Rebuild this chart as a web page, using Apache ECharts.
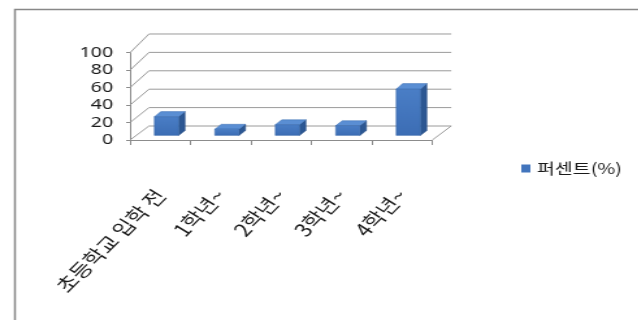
<!DOCTYPE html>
<html>
<head>
<meta charset="utf-8">
<script src="https://cdn.jsdelivr.net/npm/echarts@6/dist/echarts.min.js"></script>
<style>
  html, body { margin: 0; padding: 0; background: #fff; overflow: hidden; }
  #wrap { width: 638px; height: 320px; overflow: hidden; position: relative; }
  /* the chart is laid out narrow and widened, like a stretched spreadsheet snapshot */
  #chart { width: 491px; height: 320px; transform: scaleX(1.3); transform-origin: 0 0; }
</style>
</head>
<body>
<div id="wrap"><div id="chart"></div></div>
<script>
// categories and values
const categories = ['초등학교 입학 전', '1학년~', '2학년~', '3학년~', '4학년~'];
const percent = [21, 7, 12, 11, 52];
const seriesName = '퍼센트(%)';
const yTicks = [0, 20, 40, 60, 80, 100];

// oblique depth of the pseudo-3D box (pixels in chart space)
const DX = 14.6, DY = -14, K = 0.054;
const D0 = 0.33, D1 = 0.67;       // bar depth span
const GRID_COLOR = '#9a9a9a';
const FRONT = '#4275bd', TOP = '#5a8ed3', SIDE = '#2c5792';

function projector(api) {
  const base = api.coord([0, 0])[1];
  return function (x, v, d) {
    const h = base - api.coord([0, v])[1];
    return [x + d * DX, base + d * DY - h * (1 + d * K)];
  };
}

const chart = echarts.init(document.getElementById('chart'), null, { renderer: 'canvas' });

chart.setOption({
  animation: false,
  backgroundColor: '#fff',
  graphic: [{
    type: 'rect', left: 9, top: 7, z: -10,
    shape: { width: 700, height: 400 },
    style: { fill: 'none', stroke: '#888', lineWidth: 1.5 }
  }],
  legend: {
    data: [seriesName],
    left: 396, top: 156,
    icon: 'rect', itemWidth: 7, itemHeight: 8, itemGap: 4,
    textStyle: { fontFamily: 'Noto Sans CJK KR', fontSize: 15, color: '#1a1a1a', padding: [12, 0, 0, 0] }
  },
  grid: { left: 100, right: 158.5, top: 52.7, bottom: 180, containLabel: false },
  xAxis: {
    type: 'category',
    data: categories,
    boundaryGap: true,
    axisLine: { show: true, lineStyle: { color: '#8c8c8c', width: 1 } },
    axisTick: { show: true, length: 5, interval: 0, lineStyle: { color: '#8c8c8c' } },
    axisLabel: {
      interval: 0, rotate: 52, margin: 52,
      fontFamily: 'Noto Sans CJK KR', fontSize: 18, color: '#1a1a1a'
    },
    splitLine: { show: false }
  },
  yAxis: {
    type: 'value', min: 0, max: 100, interval: 20,
    axisLine: { show: true, lineStyle: { color: '#8c8c8c', width: 1 } },
    axisTick: { show: true, length: 3, lineStyle: { color: '#8c8c8c' } },
    axisLabel: { margin: 13, fontFamily: 'Noto Sans', fontSize: 15, color: '#1a1a1a' },
    splitLine: { show: false }
  },
  series: [
    {
      // side wall, back wall and floor lines
      type: 'custom',
      silent: true,
      clip: false,
      z: 1,
      data: yTicks.map(v => [0, v]),
      renderItem: function (params, api) {
        const p = projector(api);
        const cs = params.coordSys;
        const v = api.value(1);
        const xl = cs.x, xr = cs.x + cs.width;
        const a = p(xl, v, 0), b = p(xl, v, 1), c = p(xr, v, 1);
        const children = [{
          type: 'polyline',
          shape: { points: [a, b, c] },
          style: { stroke: GRID_COLOR, lineWidth: 1, fill: null }
        }];
        if (v === 0) {
          children.push({
            type: 'line',
            shape: { x1: xr, y1: p(xr, 0, 0)[1], x2: c[0], y2: c[1] },
            style: { stroke: GRID_COLOR, lineWidth: 1 }
          });
        }
        return { type: 'group', children: children };
      }
    },
    {
      name: seriesName,
      type: 'custom',
      clip: false,
      z: 5,
      itemStyle: { color: FRONT },
      data: percent.map((v, i) => [i, v]),
      renderItem: function (params, api) {
        const p = projector(api);
        const cx = api.coord([api.value(0), 0])[0];
        const band = api.size([1, 0])[0];
        const hw = band * 0.2;
        const v = api.value(1);
        const xl = cx - hw, xr = cx + hw;
        const front = [p(xl, 0, D0), p(xr, 0, D0), p(xr, v, D0), p(xl, v, D0)];
        const top = [p(xl, v, D0), p(xr, v, D0), p(xr, v, D1), p(xl, v, D1)];
        const side = [p(xr, 0, D0), p(xr, 0, D1), p(xr, v, D1), p(xr, v, D0)];
        return {
          type: 'group',
          children: [
            { type: 'polygon', shape: { points: side }, style: { fill: SIDE, stroke: '#264d84', lineWidth: 0.5 } },
            { type: 'polygon', shape: { points: top }, style: { fill: TOP, stroke: '#3f70b3', lineWidth: 0.5 } },
            { type: 'polygon', shape: { points: front }, style: {
              fill: new echarts.graphic.LinearGradient(0, 0, 0, 1, [
                { offset: 0, color: '#4a7ec6' }, { offset: 1, color: '#3c6db4' }
              ]),
              stroke: '#3566aa', lineWidth: 0.5 } }
          ]
        };
      }
    }
  ]
});
</script>
</body>
</html>
